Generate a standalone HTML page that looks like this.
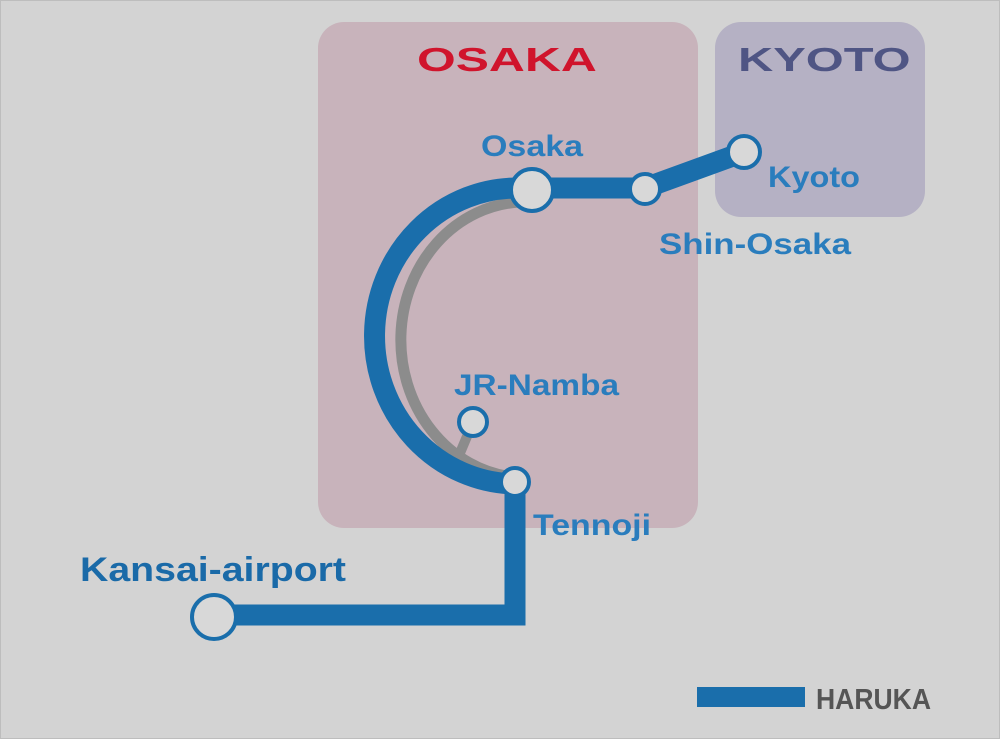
<!DOCTYPE html>
<html><head><meta charset="utf-8"><style>
html,body{margin:0;padding:0;background:#d3d3d3}
svg{display:block}
text{font-family:"Liberation Sans",sans-serif;font-weight:bold}
</style></head><body>
<svg width="1000" height="739" viewBox="0 0 1000 739" xmlns="http://www.w3.org/2000/svg">
<rect x="0.5" y="0.5" width="999" height="738" fill="#d3d3d3" stroke="#bdbdbd"/>
<rect x="318" y="22" width="380" height="506" rx="26" fill="#c8b3bb"/>
<rect x="715" y="22" width="210" height="195" rx="26" fill="#b5b1c4"/>
<text x="417" y="71" font-size="33" fill="#d0142c" transform="translate(417 71) scale(1.45 1) translate(-417 -71)" textLength="124" lengthAdjust="spacingAndGlyphs">OSAKA</text>
<text x="738" y="71" font-size="33" fill="#4f5584" transform="translate(738 71) scale(1.45 1) translate(-738 -71)" textLength="119" lengthAdjust="spacingAndGlyphs">KYOTO</text>
<!-- gray branch -->
<path d="M520 202 A125 138 0 0 0 512 477" fill="none" stroke="#8c8c8c" stroke-width="11"/>
<line x1="473" y1="422" x2="455" y2="465" stroke="#8c8c8c" stroke-width="10"/>
<!-- blue line -->
<path d="M744 152 L645 188 L532 188 L520 188 A143 148 0 0 0 515 484 L515 615 L214 615" fill="none" stroke="#1a6eab" stroke-width="21" stroke-linejoin="miter"/>
<g fill="#d8d8d8" stroke="#1a6eab" stroke-width="4">
<circle cx="532" cy="190" r="21"/>
<circle cx="645" cy="189" r="15"/>
<circle cx="744" cy="152" r="16"/>
<circle cx="473" cy="422" r="14"/>
<circle cx="515" cy="482" r="14"/>
<circle cx="214" cy="617" r="22"/>
</g>
<g fill="#2a7dbd" font-size="30">
<text x="481" y="156" textLength="102" lengthAdjust="spacingAndGlyphs">Osaka</text>
<text x="768" y="187" textLength="92" lengthAdjust="spacingAndGlyphs">Kyoto</text>
<text x="659" y="254" textLength="192" lengthAdjust="spacingAndGlyphs">Shin-Osaka</text>
<text x="454" y="395" textLength="165" lengthAdjust="spacingAndGlyphs">JR-Namba</text>
<text x="533" y="535" textLength="118" lengthAdjust="spacingAndGlyphs">Tennoji</text>
</g>
<text x="80" y="581" font-size="34" fill="#1a6aa8" textLength="266" lengthAdjust="spacingAndGlyphs">Kansai-airport</text>
<rect x="697" y="687" width="108" height="20" fill="#1a6eab"/>
<text x="816" y="709" font-size="29" fill="#555" textLength="115" lengthAdjust="spacingAndGlyphs">HARUKA</text>
</svg>
</body></html>
